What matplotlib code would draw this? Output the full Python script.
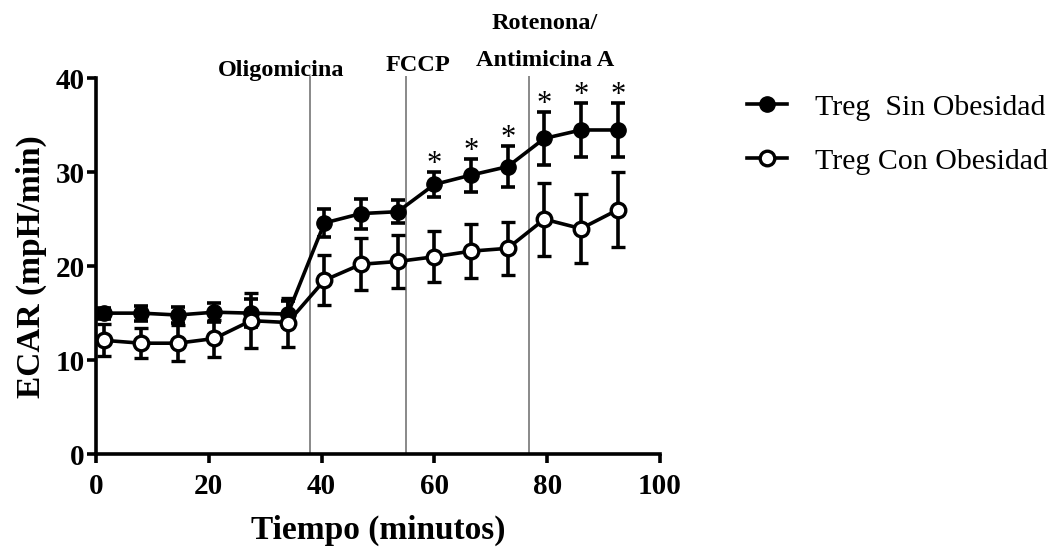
import matplotlib
matplotlib.use("Agg")
import matplotlib.pyplot as plt
from matplotlib.lines import Line2D

plt.rcParams['font.family'] = ['Liberation Serif', 'DejaVu Serif']

tiempo = [1.5, 8.0, 14.5, 21.0, 27.5, 34.0, 40.5, 47.0, 53.5, 60.0, 66.5, 73.0, 79.5, 86.0, 92.5]

sin_obes = [15.0, 15.0, 14.8, 15.1, 15.0, 14.9, 24.6, 25.6, 25.8, 28.7, 29.7, 30.6, 33.6, 34.5, 34.5]
sin_err = [0.6, 0.8, 0.9, 1.0, 1.5, 1.4, 1.45, 1.6, 1.2, 1.3, 1.75, 2.2, 2.8, 2.85, 2.85]

con_obes = [12.1, 11.8, 11.8, 12.3, 14.2, 14.0, 18.5, 20.2, 20.5, 21.0, 21.6, 21.9, 25.0, 24.0, 26.0]
con_err = [1.7, 1.6, 1.9, 2.0, 2.9, 2.6, 2.65, 2.75, 2.8, 2.7, 2.85, 2.85, 3.9, 3.7, 4.0]

# puntos con diferencia significativa
signif = [9, 10, 11, 12, 13, 14]

inyecciones = [38.0, 55.0, 76.8]

fig = plt.figure(figsize=(10.57, 5.5), dpi=100)
ax = fig.add_axes([0.0908, 0.1745, 0.5336, 0.6831])

lw = 2.6
ax.vlines(inyecciones, 0, 40.3, color='#808080', lw=1.3, clip_on=False, zorder=1)

ax.errorbar(tiempo, sin_obes, yerr=sin_err, color='black', lw=lw, elinewidth=lw,
            capsize=4.8, capthick=lw, marker='o', markersize=11,
            mfc='black', mec='black', clip_on=False, zorder=3)
ax.errorbar(tiempo, con_obes, yerr=con_err, color='black', lw=lw, elinewidth=lw,
            capsize=4.8, capthick=lw, marker='o', markersize=10.5, mew=2.4,
            mfc='white', mec='black', clip_on=False, zorder=4)

for i in signif:
    ax.annotate('*', (tiempo[i], sin_obes[i] + sin_err[i]), xytext=(0, 0),
                textcoords='offset points', ha='center', va='baseline', fontsize=22)

ax.text(32.9, 40.8, 'Oligomicina', ha='center', va='center', fontsize=17.5, fontweight='bold')
ax.text(57.0, 41.4, 'FCCP', ha='center', va='center', fontsize=17.5, fontweight='bold')
ax.text(79.6, 41.9, 'Antimicina A', ha='center', va='center', fontsize=17.5, fontweight='bold')
ax.text(79.6, 45.8, 'Rotenona/', ha='center', va='center', fontsize=17.5, fontweight='bold')

ax.set_xlim(0, 100)
ax.set_ylim(0, 40)
ax.set_xticks([0, 20, 40, 60, 80, 100])
ax.set_yticks([0, 10, 20, 30, 40])
for s in ['top', 'right']:
    ax.spines[s].set_visible(False)
for s in ['left', 'bottom']:
    ax.spines[s].set_linewidth(2.6)
ax.tick_params(width=2.6, length=6.5, labelsize=21)
ax.tick_params(axis='x', pad=7.5)
ax.tick_params(axis='y', pad=1.5)
for lab in ax.get_xticklabels() + ax.get_yticklabels():
    lab.set_fontweight('bold')

ax.set_xlabel('Tiempo (minutos)', fontsize=24, fontweight='bold', labelpad=10)
ax.set_ylabel('ECAR (mpH/min)', fontsize=24, fontweight='bold', labelpad=6)

handles = [
    Line2D([], [], color='black', lw=lw, marker='o', markersize=11, mfc='black', mec='black'),
    Line2D([], [], color='black', lw=lw, marker='o', markersize=10.5, mew=2.4, mfc='white', mec='black'),
]
fig.legend(handles, ['Treg  Sin Obesidad', 'Treg Con Obesidad'], loc='upper left',
           bbox_to_anchor=(0.681, 0.878), frameon=False, fontsize=21.5,
           handlelength=1.35, labelspacing=0.9, handletextpad=0.95)

fig.savefig('out.png', dpi=100)
